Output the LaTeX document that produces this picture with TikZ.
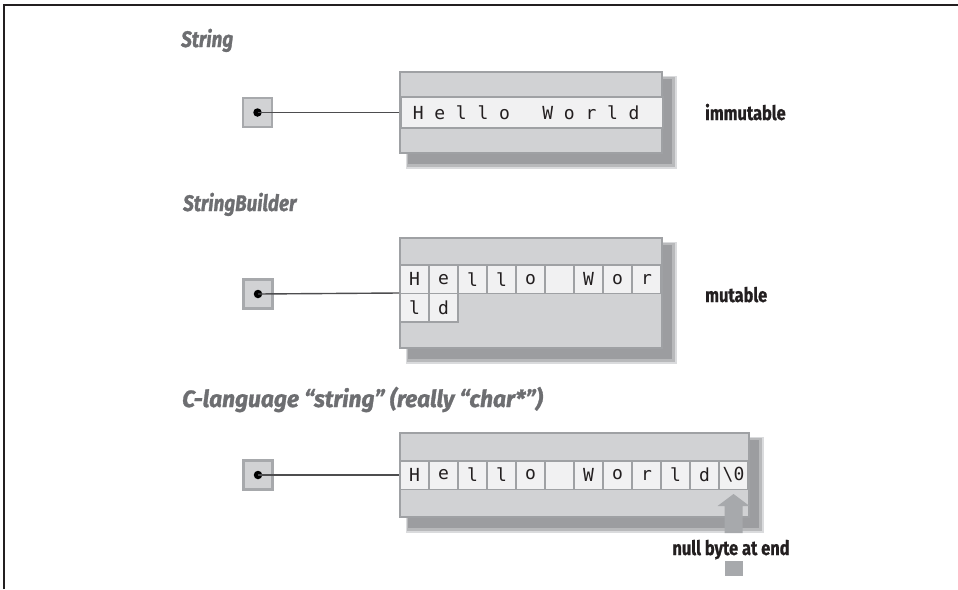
\documentclass[tikz,border=0pt]{standalone}
\usepackage{fontspec}
\newfontfamily\ttlfont[FakeStretch=0.84,FakeBold=1.2]{Fira Sans}
\newfontfamily\tagfont[FakeStretch=0.82,FakeBold=0.8]{Fira Sans}
\newfontfamily\monofont{DejaVu Sans Mono}
\newcommand\spc[1]{\makebox[21.6pt][l]{#1}}
\usetikzlibrary{calc,backgrounds}
\definecolor{boxfill}{HTML}{D1D2D4}
\definecolor{boxedge}{HTML}{9FA1A4}
\definecolor{cellfill}{HTML}{F1F1F2}
\definecolor{titlegray}{HTML}{6D6E71}
\definecolor{ink}{HTML}{231F20}
\definecolor{wire}{HTML}{4D4D4F}
\definecolor{arrowgray}{HTML}{A7A9AC}
\definecolor{shadeA}{HTML}{DADBDD}
\definecolor{shadeB}{HTML}{B8B9BB}
\definecolor{shadeC}{HTML}{9C9DA0}
\newcommand\dropshade[1]{%
  \begin{pgfonlayer}{background}
    \fill[shadeA] ($(#1.north west)+(7,5)$) rectangle ($(#1.south east)+(14,15)$);
    \fill[shadeB] ($(#1.north west)+(8,6)$) rectangle ($(#1.south east)+(12,13)$);
    \fill[shadeC] ($(#1.north west)+(9,8)$) rectangle ($(#1.south east)+(9,10)$);
  \end{pgfonlayer}}
\begin{document}
\begin{tikzpicture}[x=1pt,y=-1pt,
  heading/.style={anchor=base west, inner sep=0, text=titlegray,
    font=\ttlfont\bfseries\itshape\fontsize{22.5}{26}\selectfont},
  tag/.style={inner sep=0, text=ink,
    font=\tagfont\bfseries\fontsize{20}{24}\selectfont},
  memory/.style={draw=boxedge, fill=boxfill, line width=2pt, inner sep=0,
    minimum width=262pt},
  strip/.style={draw=boxedge, fill=cellfill, line width=1.5pt, inner sep=0,
    minimum height=31pt, text=ink, font=\monofont\fontsize{18}{20}\selectfont},
  cell/.style={draw=boxedge, fill=cellfill, line width=1.5pt, inner sep=0,
    minimum width=29pt, minimum height=28.5pt, text=ink,
    font=\monofont\fontsize{18}{20}\selectfont},
  pointer/.style={draw=arrowgray, fill=boxfill, line width=2.5pt, inner sep=0,
    minimum size=29pt},
  dot/.style={circle, fill=black, inner sep=0, minimum size=8.5pt},
  wireline/.style={draw=wire, line width=1.4pt}
]
\useasboundingbox (0,0) rectangle (958,589);
% frame
\draw[ink, line width=1.5pt] (4,589) -- (4,5) -- (958,5);

% ---------- String ----------
\node[heading] (t1) at (181,47) {String};
\node[memory, minimum height=81pt] (b1) at (531,112.5) {};
\dropshade{b1}
\node[strip, anchor=west, text width=238pt, inner xsep=12pt, align=left] (s1) at (400,112.5)
  {\spc{H}\spc{e}\spc{l}\spc{l}\spc{o}\hspace{21.6pt}\spc{W}\spc{o}\spc{r}\spc{l}d};
\node[pointer] (p1) at (257.5,112.5) {};
\node[dot] (d1) at (p1.center) {};
\draw[wireline] (d1.center) -- (b1.west);
\node[tag, anchor=base west] (l1) at (705,120) {immutable};

% ---------- StringBuilder ----------
\node[heading] (t2) at (183,211) {StringBuilder};
\node[memory, minimum height=110pt] (b2) at (531,293) {};
\dropshade{b2}
\foreach \ch [count=\i from 0] in {H,e,l,l,o,{},W,o,r}
  \node[cell] (c2-\i) at (414.5+29*\i,279.25) {\ch};
\foreach \ch [count=\i from 0] in {l,d}
  \node[cell] (c2r-\i) at (414.5+29*\i,307.75) {\ch};
\node[pointer] (p2) at (258,294) {};
\node[dot] (d2) at (p2.center) {};
\draw[wireline] (d2.center) -- (b2.west);
\node[tag, anchor=base west] (l2) at (705,302) {mutable};

% ---------- C-language ----------
\node[heading, font=\ttlfont\bfseries\itshape\fontsize{23.5}{27}\selectfont] (t3) at (182,407)
  {\scalebox{1.15}[1]{C-language “string” (really “char*”)}};
\node[memory, minimum width=349pt, minimum height=84pt] (b3) at (574.5,475) {};
\dropshade{b3}
\foreach \ch [count=\i from 0] in {H,e,l,l,o,{},W,o,r,l,d,{\textbackslash 0}}
  \node[cell] (c3-\i) at (414.5+29*\i,475) {\ch};
\node[pointer] (p3) at (258,475) {};
\node[dot] (d3) at (p3.center) {};
\draw[wireline] (d3.center) -- (b3.west);

% null byte arrow
\node[tag, anchor=base] (nb) at (731,555) {null byte at end};
\coordinate (tip) at ($(c3-11.south)+(0,4)$);
\fill[arrowgray] (tip) -- ++(16,12) -- ++(-7,0) -- ++(0,27) -- ++(-18,0)
  -- ++(0,-27) -- ++(-7,0) -- cycle;
\fill[arrowgray] ($(tip)+(-9,67)$) rectangle ++(18,15);
\end{tikzpicture}
\end{document}
